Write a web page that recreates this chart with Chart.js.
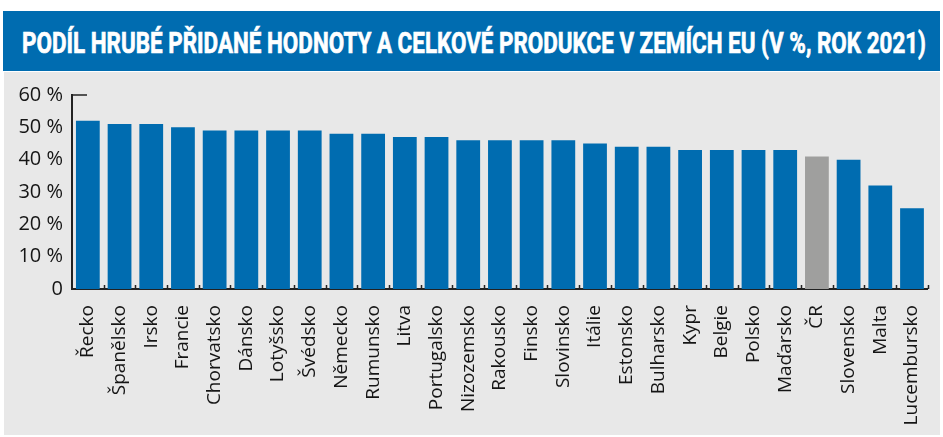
<!DOCTYPE html>
<html>
<head>
<meta charset="utf-8">
<script src="https://cdn.jsdelivr.net/npm/chart.js@4"></script>
<style>
  html, body { margin: 0; padding: 0; background: #fff; }
  body { width: 943px; height: 437px; position: relative; overflow: hidden; }
  #banner {
    position: absolute; left: 3px; top: 11px; width: 937px; height: 60px;
    background: #006cb0;
  }
  #title {
    position: absolute; left: 19px; top: 17px; white-space: nowrap;
    font-family: Roboto, "Open Sans", sans-serif; font-weight: bold;
    font-size: 30px; line-height: 30px; color: #fff; transform-origin: 0 0;
    -webkit-text-stroke: 0.7px #fff;
  }
  #panel {
    position: absolute; left: 4px; top: 72px; width: 936px; height: 363px;
    background: #e8e8e8;
  }
  #chart { position: absolute; left: 0; top: 0; }
</style>
</head>
<body>
<div id="banner"><span id="title">PODÍL HRUBÉ PŘIDANÉ HODNOTY A CELKOVÉ PRODUKCE V ZEMÍCH EU (V %, ROK 2021)</span></div>
<div id="panel"></div>
<canvas id="chart" width="943" height="437"></canvas>
<script>
const countries = [
  "Řecko", "Španělsko", "Irsko", "Francie", "Chorvatsko", "Dánsko", "Lotyšsko",
  "Švédsko", "Německo", "Rumunsko", "Litva", "Portugalsko", "Nizozemsko",
  "Rakousko", "Finsko", "Slovinsko", "Itálie", "Estonsko", "Bulharsko", "Kypr",
  "Belgie", "Polsko", "Maďarsko", "ČR", "Slovensko", "Malta", "Lucembursko",
];
const shares = [
  52, 51, 51, 50, 49, 49, 49, 49, 48, 48, 47, 47, 46, 46, 46, 46, 45, 44, 44,
  43, 43, 43, 43, 41, 40, 32, 25,
];
const highlight = "ČR";

const blue = "#006cb0";
const grey = "#9f9f9e";
const inkColor = "#151515";

// squeeze title into banner width
const title = document.getElementById("title");
const tw = title.getBoundingClientRect().width;
title.style.transform = "scaleX(" + (904 / tw) + ")";

const barColors = countries.map((c) => (c === highlight ? grey : blue));

// small decorations: top cap on y axis, boundary ticks on x axis
const axisMarks = {
  id: "axisMarks",
  afterDraw(chart) {
    const { ctx, chartArea, scales } = chart;
    const x = scales.x;
    const y = scales.y;
    ctx.save();
    ctx.strokeStyle = "#222";
    ctx.lineWidth = 1.5;
    const yTop = y.getPixelForValue(60);
    ctx.beginPath();
    ctx.moveTo(chartArea.left, yTop);
    ctx.lineTo(chartArea.left + 15, yTop);
    ctx.stroke();
    const half = (x.getPixelForValue(1) - x.getPixelForValue(0)) / 2;
    for (let i = 0; i < countries.length; i++) {
      const px = Math.round(x.getPixelForValue(i) + half) + 0.5;
      ctx.beginPath();
      ctx.moveTo(px, chartArea.bottom);
      ctx.lineTo(px, chartArea.bottom - 4);
      ctx.stroke();
    }
    ctx.restore();
  },
};

new Chart(document.getElementById("chart"), {
  type: "bar",
  data: {
    labels: countries,
    datasets: [
      {
        data: shares,
        backgroundColor: barColors,
        borderWidth: 0,
        barPercentage: 0.75,
        categoryPercentage: 1,
      },
    ],
  },
  options: {
    responsive: false,
    animation: false,
    devicePixelRatio: 1,
    layout: { padding: { top: 95, right: 11, left: 0, bottom: 0 } },
    plugins: {
      legend: { display: false },
      tooltip: { enabled: false },
    },
    scales: {
      y: {
        min: 0,
        max: 60,
        afterFit(scale) {
          scale.width = 72;
        },
        grid: { display: false, drawTicks: false },
        border: { display: true, color: "#222", width: 2 },
        ticks: {
          stepSize: 10,
          padding: 9,
          color: inkColor,
          font: { family: "Open Sans", size: 20 },
          callback: (v) => (v === 0 ? "0" : v + " %"),
        },
      },
      x: {
        afterFit(scale) {
          scale.height = 148;
        },
        grid: { display: false },
        border: { display: true, color: "#222", width: 2 },
        ticks: {
          autoSkip: false,
          minRotation: 90,
          maxRotation: 90,
          padding: 8,
          color: inkColor,
          font: { family: "Open Sans", size: 19 },
        },
      },
    },
  },
  plugins: [axisMarks],
});
</script>
</body>
</html>
